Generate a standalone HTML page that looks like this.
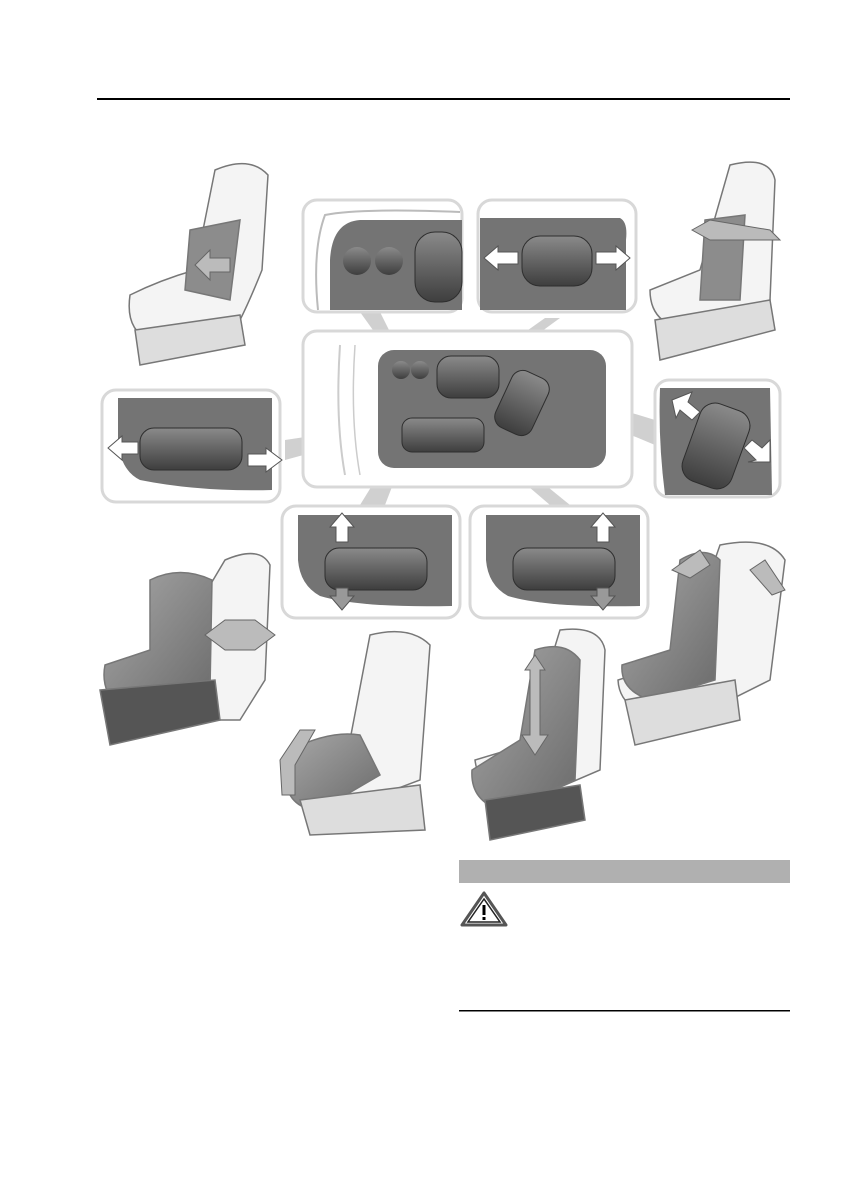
<!DOCTYPE html>
<html><head><meta charset="utf-8"><style>
html,body{margin:0;padding:0;background:#fff;}
svg{display:block;}
</style></head><body>
<svg width="841" height="1199" viewBox="0 0 841 1199" xmlns="http://www.w3.org/2000/svg">
<rect width="841" height="1199" fill="#fff"/>
<rect x="97" y="98" width="693" height="2" fill="#000"/>

<defs>
<linearGradient id="sw" x1="0" y1="0" x2="0" y2="1"><stop offset="0" stop-color="#8a8a8a"/><stop offset="1" stop-color="#3e3e3e"/></linearGradient>
<linearGradient id="seat" x1="0" y1="0" x2="1" y2="1"><stop offset="0" stop-color="#a8a8a8"/><stop offset="1" stop-color="#6a6a6a"/></linearGradient>
</defs>

<!-- connector beams -->
<g fill="#c8c8c8" opacity="0.85">
<polygon points="360,312 380,312 405,362 398,365"/>
<polygon points="500,350 545,318 560,318 505,358"/>
<polygon points="540,385 655,420 655,445 535,395"/>
<polygon points="285,440 385,425 388,432 285,460"/>
<polygon points="360,505 385,505 410,440 402,437"/>
<polygon points="480,445 490,440 570,505 550,505"/>
</g>

<!-- center panel -->
<rect x="303" y="331" width="329" height="156" rx="14" fill="#fff" stroke="#d8d8d8" stroke-width="3"/>
<path d="M340 345 Q335 420 345 475" stroke="#ccc" fill="none" stroke-width="2"/>
<path d="M355 345 Q350 420 360 475" stroke="#ccc" fill="none" stroke-width="1.5"/>
<rect x="378" y="350" width="228" height="118" rx="16" fill="#747474"/>
<circle cx="401" cy="370" r="9" fill="url(#sw)"/><circle cx="420" cy="370" r="9" fill="url(#sw)"/>
<rect x="437" y="356" width="62" height="42" rx="14" fill="url(#sw)" stroke="#2e2e2e"/>
<rect x="502" y="372" width="40" height="62" rx="12" fill="url(#sw)" transform="rotate(25 522 403)" stroke="#2e2e2e"/>
<rect x="402" y="418" width="82" height="34" rx="10" fill="url(#sw)" stroke="#2e2e2e"/>

<!-- top-left panel -->
<rect x="303" y="200" width="159" height="112" rx="14" fill="#fff" stroke="#d8d8d8" stroke-width="3"/>
<path d="M318 310 Q312 250 325 215 Q360 208 460 212" stroke="#bbb" fill="none" stroke-width="2"/>
<path d="M330 310 L330 260 Q332 222 360 220 L462 220 L462 310 Z" fill="#747474"/>
<circle cx="357" cy="261" r="14" fill="url(#sw)"/><circle cx="389" cy="261" r="14" fill="url(#sw)"/>
<rect x="415" y="232" width="47" height="70" rx="20" fill="url(#sw)" stroke="#2e2e2e"/>

<!-- top-right panel -->
<rect x="478" y="200" width="158" height="112" rx="14" fill="#fff" stroke="#d8d8d8" stroke-width="3"/>
<path d="M480 218 L620 218 Q628 222 626 240 L626 310 L480 310 Z" fill="#747474"/>
<rect x="522" y="236" width="70" height="50" rx="18" fill="url(#sw)" stroke="#2e2e2e"/>
<polygon points="484,258 498,246 498,252 518,252 518,264 498,264 498,270" fill="#fff" stroke="#555"/>
<polygon points="630,258 616,246 616,252 596,252 596,264 616,264 616,270" fill="#fff" stroke="#555"/>

<!-- left panel -->
<rect x="102" y="390" width="178" height="112" rx="14" fill="#fff" stroke="#d8d8d8" stroke-width="3"/>
<path d="M118 398 L272 398 L272 490 Q200 492 140 480 Q120 470 118 440 Z" fill="#747474"/>
<rect x="140" y="428" width="102" height="42" rx="14" fill="url(#sw)" stroke="#2e2e2e"/>
<polygon points="108,448 122,436 122,442 138,442 138,454 122,454 122,460" fill="#fff" stroke="#555"/>
<polygon points="282,460 266,448 266,454 248,454 248,466 266,466 266,472" fill="#fff" stroke="#555"/>

<!-- right panel -->
<rect x="655" y="380" width="125" height="117" rx="14" fill="#fff" stroke="#d8d8d8" stroke-width="3"/>
<path d="M660 388 L770 388 L772 495 L665 495 Q658 440 660 388 Z" fill="#747474"/>
<rect x="690" y="405" width="52" height="82" rx="16" fill="url(#sw)" transform="rotate(20 716 446)" stroke="#2e2e2e"/>
<polygon points="672,400 692,392 688,402 700,412 692,420 680,410 676,418" fill="#fff" stroke="#555"/>
<polygon points="770,440 762,448 752,440 744,448 756,460 748,462 770,462" fill="#fff" stroke="#555"/>

<!-- bottom panels -->
<rect x="282" y="506" width="178" height="112" rx="14" fill="#fff" stroke="#d8d8d8" stroke-width="3"/>
<path d="M298 515 L452 515 L452 606 Q360 608 320 596 Q300 585 298 560 Z" fill="#747474"/>
<rect x="325" y="548" width="102" height="42" rx="14" fill="url(#sw)" stroke="#2e2e2e"/>
<polygon points="342,513 330,527 336,527 336,542 348,542 348,527 354,527" fill="#fff" stroke="#555"/>
<polygon points="342,610 330,596 336,596 336,588 348,588 348,596 354,596" fill="#999" stroke="#555"/>

<rect x="470" y="506" width="178" height="112" rx="14" fill="#fff" stroke="#d8d8d8" stroke-width="3"/>
<path d="M486 515 L640 515 L640 606 Q548 608 508 596 Q488 585 486 560 Z" fill="#747474"/>
<rect x="513" y="548" width="102" height="42" rx="14" fill="url(#sw)" stroke="#2e2e2e"/>
<polygon points="603,513 591,527 597,527 597,542 609,542 609,527 615,527" fill="#fff" stroke="#555"/>
<polygon points="603,610 591,596 597,596 597,588 609,588 609,596 615,596" fill="#999" stroke="#555"/>

<!-- seats (approximations) -->
<g stroke="#777" stroke-width="1.5" fill="#f4f4f4">
<!-- top-left seat -->
<path d="M215 170 Q250 155 268 175 L262 270 Q250 300 240 320 L150 340 Q125 330 130 295 Q160 280 195 270 Z"/>
<path d="M190 230 L240 220 L230 300 L185 290 Z" fill="#8c8c8c"/>
<path d="M135 330 L240 315 L245 345 L140 365 Z" fill="#ddd"/>
<!-- top-right seat -->
<path d="M730 165 Q770 155 775 180 L770 300 L700 330 Q650 330 650 290 L700 270 Z"/>
<path d="M705 220 L745 215 L740 300 L700 300 Z" fill="#8c8c8c"/>
<path d="M655 320 L770 300 L775 330 L660 360 Z" fill="#ddd"/>
<!-- mid-left seat -->
<path d="M225 560 Q260 545 270 565 L265 680 L240 720 L130 720 Z"/>
<path d="M150 580 Q180 565 212 580 L210 690 L120 710 Q100 690 105 665 L150 650 Z" fill="url(#seat)"/>
<path d="M100 690 L215 680 L220 720 L110 745 Z" fill="#555"/>
<!-- bottom middle seat -->
<path d="M370 635 Q410 625 430 645 L420 780 L340 810 Q290 800 290 760 L350 740 Z"/>
<path d="M290 750 Q330 730 360 735 L380 775 L320 810 Q290 810 285 780 Z" fill="url(#seat)"/>
<path d="M300 800 L420 785 L425 830 L310 835 Z" fill="#ddd"/>
<!-- bottom right seat -->
<path d="M560 630 Q600 625 605 650 L600 770 L530 800 Q480 800 475 760 L525 745 Z"/>
<path d="M535 650 Q565 640 580 660 L575 780 L500 810 Q470 800 472 770 L520 740 Z" fill="url(#seat)"/>
<path d="M485 800 L580 785 L585 820 L490 840 Z" fill="#555"/>
<!-- right seat -->
<path d="M720 545 Q770 535 785 560 L770 680 L690 720 Q620 720 618 680 L680 660 Z"/>
<path d="M680 560 Q705 545 720 560 L715 680 L650 700 Q620 690 622 665 L670 650 Z" fill="url(#seat)"/>
<path d="M625 700 L735 680 L740 720 L635 745 Z" fill="#ddd"/>
</g>
<!-- motion arrows -->
<g fill="#bbb" stroke="#666">
<polygon points="195,265 210,250 210,258 230,258 230,272 210,272 210,280"/>
<polygon points="692,230 710,220 770,230 780,240 710,240"/>
<polygon points="205,635 225,620 255,620 275,635 255,650 225,650"/>
<polygon points="282,795 280,760 300,730 315,730 295,765 295,795"/>
<polygon points="535,655 545,670 540,670 540,735 548,735 535,755 522,735 530,735 530,670 525,670"/>
<polygon points="672,570 700,550 710,565 690,578"/>
<polygon points="785,590 765,560 750,570 772,595"/>
</g>

<!-- warning -->
<rect x="459" y="860" width="331" height="23" fill="#b0b0b0"/>
<polygon points="484,893 462,925 506,925" fill="#fff" stroke="#555" stroke-width="3" stroke-linejoin="round"/>
<polygon points="484,899 468,922 500,922" fill="#fff" stroke="#222" stroke-width="1.5"/>
<rect x="482.5" y="905" width="3" height="10" fill="#000"/><rect x="482.5" y="917" width="3" height="3" fill="#000"/>
<rect x="459" y="1010" width="331" height="1.5" fill="#000"/>
</svg>
</body></html>
